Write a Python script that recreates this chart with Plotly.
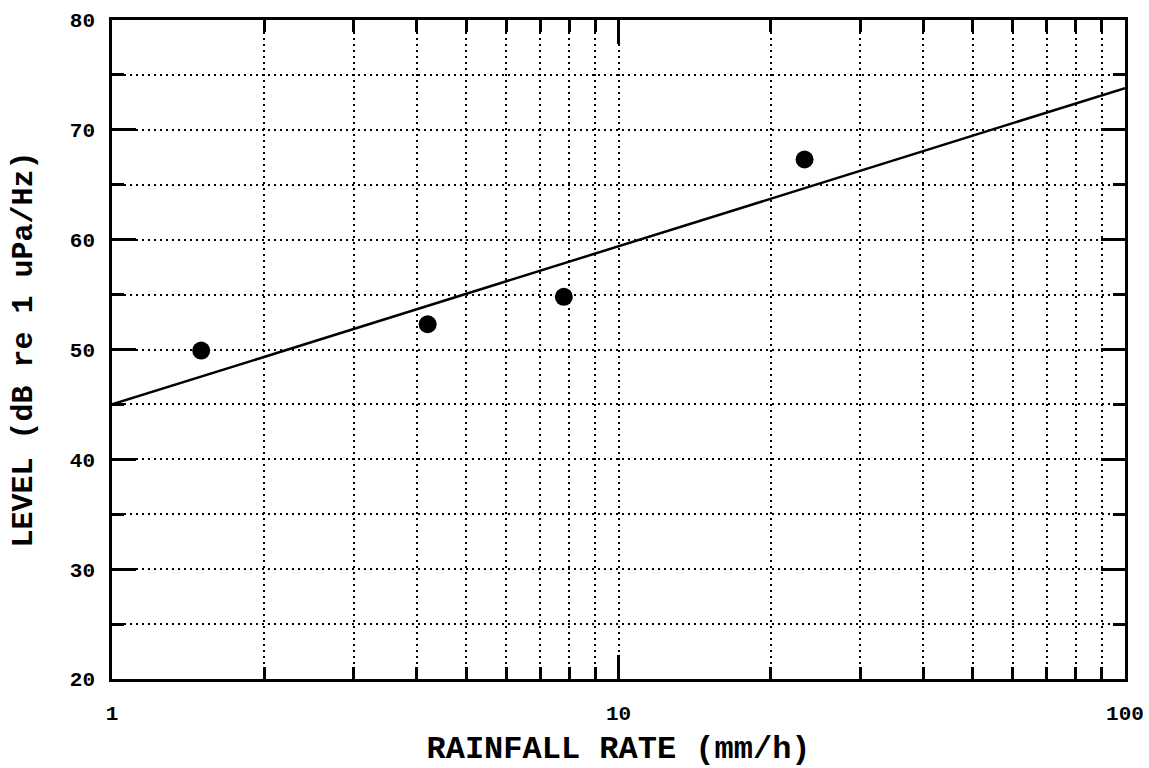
import plotly.graph_objects as go

# Measured points
rain_rate = [1.5, 4.2, 7.8, 23.3]
level_db = [49.9, 52.3, 54.8, 67.3]

# Fitted line
fit_x = [1, 100]
fit_y = [45.0, 73.8]

x_major = [1, 10, 100]
x_major_text = ["1", "10", "100"]
x_minor = [2, 3, 4, 5, 6, 7, 8, 9, 20, 30, 40, 50, 60, 70, 80, 90]
y_major = [20, 30, 40, 50, 60, 70, 80]
y_minor = [25, 35, 45, 55, 65, 75]

MONO = "Liberation Mono, Courier New, monospace"
grid_dash = "2px,4px"

fig = go.Figure()
fig.add_trace(go.Scatter(x=fit_x, y=fit_y, mode="lines",
                         line=dict(color="black", width=2.5), showlegend=False))
fig.add_trace(go.Scatter(x=rain_rate, y=level_db, mode="markers",
                         marker=dict(color="black", size=18), showlegend=False))

common = dict(
    ticks="inside", ticklen=24, tickwidth=2.5, tickcolor="black",
    showline=True, linecolor="black", linewidth=2.5, mirror="ticks",
    showgrid=True, gridcolor="black", gridwidth=1.5, griddash=grid_dash,
    zeroline=False, automargin=False,
    tickfont=dict(family=MONO, size=21, color="black", weight="bold"),
)
minor_common = dict(ticks="inside", ticklen=12, tickwidth=2.5, tickcolor="black",
                    showgrid=True, gridcolor="black", gridwidth=1.5, griddash=grid_dash)

fig.update_xaxes(
    type="log", range=[0, 2],
    tickvals=x_major, ticktext=x_major_text,
    ticklabelstandoff=13,
    minor=dict(tickvals=x_minor, **minor_common),
    title=dict(text="RAINFALL RATE (mm/h)", standoff=20,
               font=dict(family=MONO, size=32, color="black", weight="bold")),
    **common,
)
fig.update_yaxes(
    range=[20, 80],
    tickvals=y_major,
    ticklabelstandoff=10,
    minor=dict(tickvals=y_minor, **minor_common),
    title=dict(text="LEVEL (dB re 1 uPa/Hz)", standoff=29,
               font=dict(family=MONO, size=30, color="black", weight="bold")),
    **common,
)
fig.update_layout(
    width=1149, height=768,
    margin=dict(l=112, r=24, t=20, b=89),
    plot_bgcolor="white", paper_bgcolor="white",
)
fig.write_html("out.html")
